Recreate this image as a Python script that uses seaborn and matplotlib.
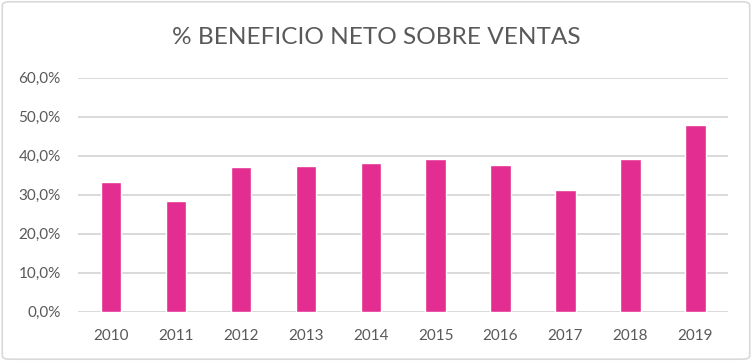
import pandas as pd
import matplotlib.pyplot as plt
import seaborn as sns
from matplotlib.patches import FancyBboxPatch
from matplotlib.ticker import FuncFormatter

sns.set_theme(style="white")
plt.rcParams['font.family'] = ['Lato', 'DejaVu Sans']

# Datos
years = ["2010", "2011", "2012", "2013", "2014", "2015", "2016", "2017", "2018", "2019"]
beneficio = [33.3, 28.4, 37.1, 37.4, 38.1, 39.2, 37.6, 31.2, 39.2, 47.9]

df = pd.DataFrame({"Año": years, "Beneficio": beneficio})

fig = plt.figure(figsize=(7.52, 3.61), dpi=100)
ax = fig.add_axes([0.104, 0.1366, 0.864, 0.6484])

sns.barplot(data=df, x="Año", y="Beneficio", color="#E32D91", width=0.31,
            saturation=1, ax=ax, zorder=3)

ax.set_ylim(0, 60)
ax.set_yticks(range(0, 61, 10))
ax.yaxis.set_major_formatter(FuncFormatter(lambda v, _: f"{v:.1f}%".replace(".", ",")))
ax.grid(axis="y", color="#D9D9D9", linewidth=1.4, zorder=0)
ax.set_axisbelow(True)
for s in ax.spines.values():
    s.set_visible(False)
ax.tick_params(axis="both", length=0, labelsize=11, labelcolor="#595959", pad=12.5)
ax.set_xlabel("")
ax.set_ylabel("")

fig.text(0.5, 0.897, "% BENEFICIO NETO SOBRE VENTAS", ha="center", va="center",
         fontsize=17.6, color="#595959")

border = FancyBboxPatch((0.003, 0.005), 0.994, 0.99, boxstyle="round,pad=0,rounding_size=0.01",
                        transform=fig.transFigure, fill=False, edgecolor="#D9D9D9", linewidth=1.2)
fig.patches.append(border)

fig.savefig("out.png", dpi=100)
plt.close(fig)
